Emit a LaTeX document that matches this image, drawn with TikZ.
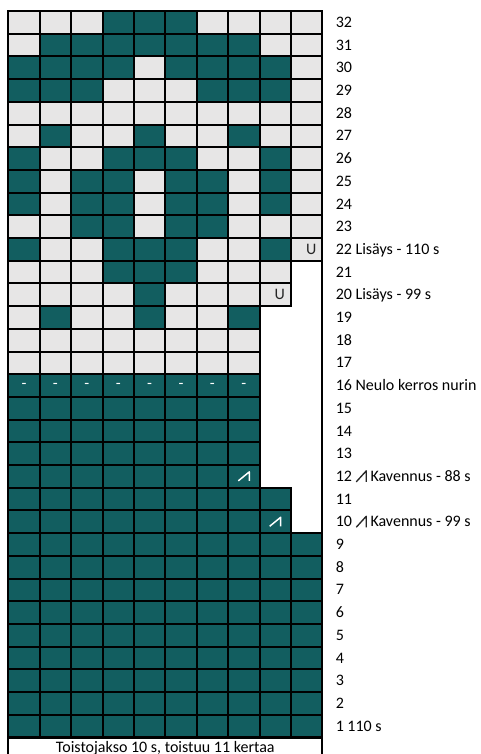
\documentclass[tikz,border=0pt]{standalone}
\usepackage{fontspec}
\setmainfont{Carlito}
\usetikzlibrary{positioning, calc}
\definecolor{chartdark}{RGB}{18,94,96}
\definecolor{chartlight}{RGB}{231,230,230}
\tikzset{
    cell_light/.style={
        rectangle,
        draw=black,
        fill=chartlight,
        line width=1.5pt,
        minimum width=23.55pt,
        minimum height=17.025pt,
        inner sep=0pt,
        outer sep=0pt
    },
    cell_dark/.style={
        cell_light,
        fill=chartdark
    },
    cell_note/.style={
        cell_light,
        text width=14.5pt,
        inner xsep=4.5pt,
        align=right,
        text=black!85,
        font=\fontsize{12}{14}\selectfont
    },
    cell_sign/.style={
        inner sep=0pt,
        text=white,
        font=\fontsize{12}{14}\selectfont
    },
    row_label/.style={
        anchor=west,
        inner sep=0pt,
        text height=7.6pt,
        text depth=0pt,
        font=\fontsize{12}{14}\selectfont
    },
    footer_box/.style={
        rectangle,
        draw=black,
        line width=1.5pt,
        minimum width=235.5pt,
        inner ysep=3pt,
        text height=7.7pt,
        text depth=3pt,
        font=\fontsize{12}{14}\selectfont
    },
    pics/kav_mark/.style={
        code={\draw[line width=1.1pt, line join=round, #1] (-5.5,4.5) -- (5.5,-4.5) -- (5.5,4.5);}
    },
    pics/kav_label/.style={
        code={\draw[line width=1pt, line join=round, black!85] (-5,5.5) -- (5,-5.5) -- (5,5.5);}
    }
}

\begin{document}
\begin{tikzpicture}[x=0.75pt, y=-0.75pt]
\useasboundingbox (0,0) rectangle (480,754);

% --- Grid base (rows 1-16 dark, 17-32 light) ---
\foreach \r in {1,...,32} {
    \pgfmathtruncatemacro{\w}{(\r>=22 || \r<=9) ? 10 : ((\r>=20 || \r<=11) ? 9 : 8)}
    \ifnum\r<17 \def\cellstyle{cell_dark}\else\def\cellstyle{cell_light}\fi
    \foreach \c in {1,...,\w} {
        \node[\cellstyle] (c\r-\c) at ({8.3+(\c-0.5)*31.4}, {11+(32.5-\r)*22.7}) {};
    }
}

% --- Pattern ---
\foreach \r/\cols in {32/{4,5,6}, 31/{2,...,8}, 30/{1,2,3,4,6,7,8,9}, 29/{1,2,3,7,8,9},
    27/{2,5,8}, 26/{1,4,5,6,9}, 25/{1,3,4,6,7,9}, 24/{1,3,4,6,7,9}, 23/{3,4,6,7},
    22/{1,4,5,6,9}, 21/{4,5,6}, 20/{5}, 19/{2,5,8}} {
    \foreach \c in \cols {
        \node[cell_dark] at (c\r-\c) {};
    }
}

% --- Symbols ---
\node[cell_note] at (c22-10) {U};
\node[cell_note] at (c20-9) {U};
\foreach \c in {1,...,8} {
    \node[cell_sign] at (c16-\c) {-};
}
\pic at (c12-8) {kav_mark=white};
\pic at (c10-9) {kav_mark=white};

% --- Frame & footer ---
\draw[line width=1.5pt] (c32-1.north west) rectangle (c1-10.south east);
\node[footer_box, anchor=north] (footer) at ($(c1-1.south west)!0.5!(c1-10.south east)$) {Toistojakso 10 s, toistuu 11 kertaa};

% --- Row labels ---
\foreach \r in {32,31,30,29,28,27,26,25,24,23,21,19,18,17,15,14,13,11,9,8,7,6,5,4,3,2} {
    \node[row_label] (lab\r) at (335.5, {11+(32.5-\r)*22.7}) {\r};
}
\node[row_label] (lab22) at (335.5, {11+(32.5-22)*22.7}) {22 Lisäys - 110 s};
\node[row_label] (lab20) at (335.5, {11+(32.5-20)*22.7}) {20 Lisäys - 99 s};
\node[row_label] (lab16) at (335.5, {11+(32.5-16)*22.7}) {16 Neulo kerros nurin};
\node[row_label] (lab12) at (335.5, {11+(32.5-12)*22.7}) {12};
\node[row_label, right=13.5pt of lab12] (kav12) {Kavennus - 88 s};
\pic at ($(lab12.east)!0.5!(kav12.west)$) {kav_label};
\node[row_label] (lab10) at (335.5, {11+(32.5-10)*22.7}) {10};
\node[row_label, right=13.5pt of lab10] (kav10) {Kavennus - 99 s};
\pic at ($(lab10.east)!0.5!(kav10.west)$) {kav_label};
\node[row_label] (lab1) at (335.5, {11+(32.5-1)*22.7}) {1 110 s};

\end{tikzpicture}
\end{document}
